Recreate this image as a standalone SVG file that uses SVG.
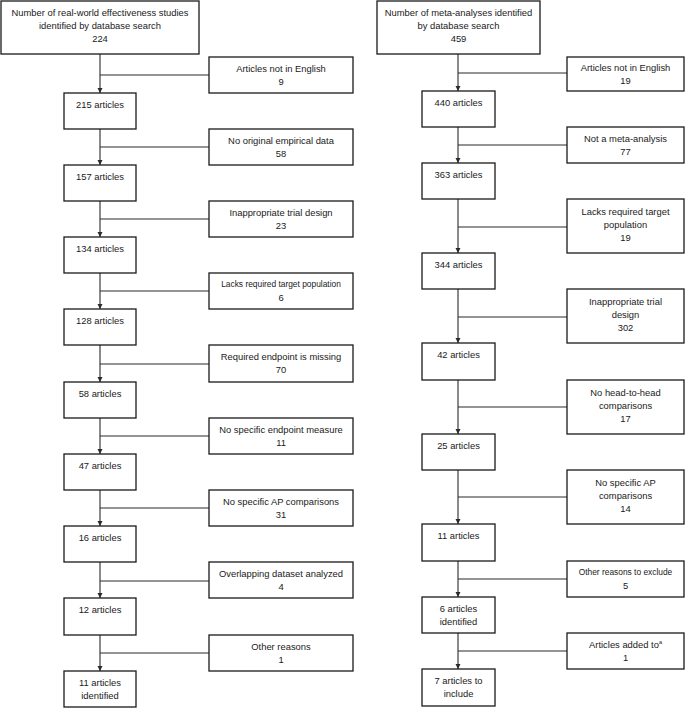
<svg xmlns="http://www.w3.org/2000/svg" width="685" height="708" viewBox="0 0 685 708">
<defs>
<style>
rect{fill:#fff;stroke:#1a1a1a;stroke-width:1.3}
text{font-family:"Liberation Sans",Arial,sans-serif;font-size:9.4px;fill:#1a1a1a;text-anchor:middle}
.sm{font-size:8.4px}
.c line{stroke:#2a2a2a;stroke-width:1.1;fill:none}
.c .a{marker-end:url(#ah)}
</style>
<marker id="ah" markerWidth="6" markerHeight="6" refX="5" refY="3" orient="auto" markerUnits="userSpaceOnUse">
<path d="M0,0.5 L5,3 L0,5.5 Z" fill="#2a2a2a"/>
</marker>
</defs>
<rect x="0" y="0" width="685" height="708" style="stroke:none;fill:#fff"/>

<g class="c" id="connectors">
<line class="a" x1="100" y1="54" x2="100" y2="93"/><line x1="100" y1="75" x2="209" y2="75"/>
<line class="a" x1="100" y1="129" x2="100" y2="165"/><line x1="100" y1="147" x2="209" y2="147"/>
<line class="a" x1="100" y1="201" x2="100" y2="237"/><line x1="100" y1="219" x2="209" y2="219"/>
<line class="a" x1="100" y1="273" x2="100" y2="309"/><line x1="100" y1="291" x2="209" y2="291"/>
<line class="a" x1="100" y1="345" x2="100" y2="382"/><line x1="100" y1="364" x2="209" y2="364"/>
<line class="a" x1="100" y1="418" x2="100" y2="454"/><line x1="100" y1="436" x2="209" y2="436"/>
<line class="a" x1="100" y1="490" x2="100" y2="526"/><line x1="100" y1="508" x2="209" y2="508"/>
<line class="a" x1="100" y1="562" x2="100" y2="598"/><line x1="100" y1="581" x2="209" y2="581"/>
<line class="a" x1="100" y1="635" x2="100" y2="671"/><line x1="100" y1="653" x2="209" y2="653"/>

<line class="a" x1="458" y1="54" x2="458" y2="91"/><line x1="458" y1="73" x2="567" y2="73"/>
<line class="a" x1="458" y1="127" x2="458" y2="163"/><line x1="458" y1="145" x2="567" y2="145"/>
<line class="a" x1="458" y1="199" x2="458" y2="253"/><line x1="458" y1="227" x2="567" y2="227"/>
<line class="a" x1="458" y1="289" x2="458" y2="343"/><line x1="458" y1="317" x2="567" y2="317"/>
<line class="a" x1="458" y1="380" x2="458" y2="434"/><line x1="458" y1="407" x2="567" y2="407"/>
<line class="a" x1="458" y1="470" x2="458" y2="524"/><line x1="458" y1="497" x2="567" y2="497"/>
<line class="a" x1="458" y1="561" x2="458" y2="597"/><line x1="458" y1="579" x2="567" y2="579"/>
<line class="a" x1="458" y1="633" x2="458" y2="669"/><line x1="458" y1="651" x2="567" y2="651"/>
</g>

<!-- Left column -->
<g id="L0"><rect x="1" y="1" width="198" height="53"/><text x="100" y="16">Number of real-world effectiveness studies</text><text x="100" y="29">identified by database search</text><text x="100" y="42">224</text></g>
<g id="L1"><rect x="64" y="93" width="72" height="36"/><text x="100" y="107.5">215 articles</text></g>
<g id="L2"><rect x="64" y="165" width="72" height="36"/><text x="100" y="179.5">157 articles</text></g>
<g id="L3"><rect x="64" y="237" width="72" height="36"/><text x="100" y="251.5">134 articles</text></g>
<g id="L4"><rect x="64" y="309" width="72" height="36"/><text x="100" y="323.5">128 articles</text></g>
<g id="L5"><rect x="64" y="382" width="72" height="36"/><text x="100" y="396.5">58 articles</text></g>
<g id="L6"><rect x="64" y="454" width="72" height="36"/><text x="100" y="468.5">47 articles</text></g>
<g id="L7"><rect x="64" y="526" width="72" height="36"/><text x="100" y="540.5">16 articles</text></g>
<g id="L8"><rect x="64" y="598" width="72" height="37"/><text x="100" y="613">12 articles</text></g>
<g id="L9"><rect x="64" y="671" width="72" height="36"/><text x="100" y="685.5">11 articles</text><text x="100" y="698.5">identified</text></g>

<g id="LS1"><rect x="209" y="57" width="144" height="36"/><text x="281" y="71.5">Articles not in English</text><text x="281" y="84.5">9</text></g>
<g id="LS2"><rect x="209" y="129" width="144" height="36"/><text x="281" y="143.5">No original empirical data</text><text x="281" y="156.5">58</text></g>
<g id="LS3"><rect x="209" y="201" width="144" height="36"/><text x="281" y="215.5">Inappropriate trial design</text><text x="281" y="228.5">23</text></g>
<g id="LS4"><rect x="209" y="273" width="144" height="36"/><text class="sm" x="281" y="287">Lacks required target population</text><text x="281" y="300.5">6</text></g>
<g id="LS5"><rect x="209" y="345" width="144" height="37"/><text x="281" y="359.5">Required endpoint is missing</text><text x="281" y="372.5">70</text></g>
<g id="LS6"><rect x="209" y="418" width="144" height="36"/><text x="281" y="432.5">No specific endpoint measure</text><text x="281" y="445.5">11</text></g>
<g id="LS7"><rect x="209" y="490" width="144" height="36"/><text x="281" y="504.5">No specific AP comparisons</text><text x="281" y="517.5">31</text></g>
<g id="LS8"><rect x="209" y="562" width="144" height="36"/><text x="281" y="576.5">Overlapping dataset analyzed</text><text x="281" y="589.5">4</text></g>
<g id="LS9"><rect x="209" y="635" width="144" height="36"/><text x="281" y="649.5">Other reasons</text><text x="281" y="662.5">1</text></g>

<!-- Right column -->
<g id="R0"><rect x="377" y="1" width="163" height="53"/><text x="458.5" y="16">Number of meta-analyses identified</text><text x="458.5" y="29">by database search</text><text x="458.5" y="42">459</text></g>
<g id="R1"><rect x="422" y="91" width="73" height="36"/><text x="458.5" y="105.5">440 articles</text></g>
<g id="R2"><rect x="422" y="163" width="73" height="36"/><text x="458.5" y="177.5">363 articles</text></g>
<g id="R3"><rect x="422" y="253" width="73" height="36"/><text x="458.5" y="267.5">344 articles</text></g>
<g id="R4"><rect x="422" y="343" width="73" height="37"/><text x="458.5" y="357.5">42 articles</text></g>
<g id="R5"><rect x="422" y="434" width="73" height="36"/><text x="458.5" y="448.5">25 articles</text></g>
<g id="R6"><rect x="422" y="524" width="73" height="37"/><text x="458.5" y="538.5">11 articles</text></g>
<g id="R7"><rect x="422" y="597" width="73" height="36"/><text x="458.5" y="611.5">6 articles</text><text x="458.5" y="624.5">identified</text></g>
<g id="R8"><rect x="422" y="669" width="73" height="37"/><text x="458.5" y="683.5">7 articles to</text><text x="458.5" y="696.5">include</text></g>

<g id="RS1"><rect x="567" y="57" width="117" height="34"/><text x="625.5" y="70.5">Articles not in English</text><text x="625.5" y="83.5">19</text></g>
<g id="RS2"><rect x="567" y="127" width="117" height="36"/><text x="625.5" y="141.5">Not a meta-analysis</text><text x="625.5" y="154.5">77</text></g>
<g id="RS3"><rect x="567" y="199" width="117" height="54"/><text x="625.5" y="214.5">Lacks required target</text><text x="625.5" y="227.5">population</text><text x="625.5" y="240.5">19</text></g>
<g id="RS4"><rect x="567" y="289" width="117" height="54"/><text x="625.5" y="304.5">Inappropriate trial</text><text x="625.5" y="317.5">design</text><text x="625.5" y="330.5">302</text></g>
<g id="RS5"><rect x="567" y="380" width="117" height="54"/><text x="625.5" y="395.5">No head-to-head</text><text x="625.5" y="408.5">comparisons</text><text x="625.5" y="421.5">17</text></g>
<g id="RS6"><rect x="567" y="470" width="117" height="54"/><text x="625.5" y="485.5">No specific AP</text><text x="625.5" y="498.5">comparisons</text><text x="625.5" y="511.5">14</text></g>
<g id="RS7"><rect x="567" y="561" width="117" height="36"/><text class="sm" x="625.5" y="575">Other reasons to exclude</text><text x="625.5" y="588.5">5</text></g>
<g id="RS8"><rect x="567" y="633" width="117" height="36"/><text x="625.5" y="647.5">Articles added to<tspan dy="-3.5" font-size="5.5">a</tspan></text><text x="625.5" y="660.5">1</text></g>
</svg>
